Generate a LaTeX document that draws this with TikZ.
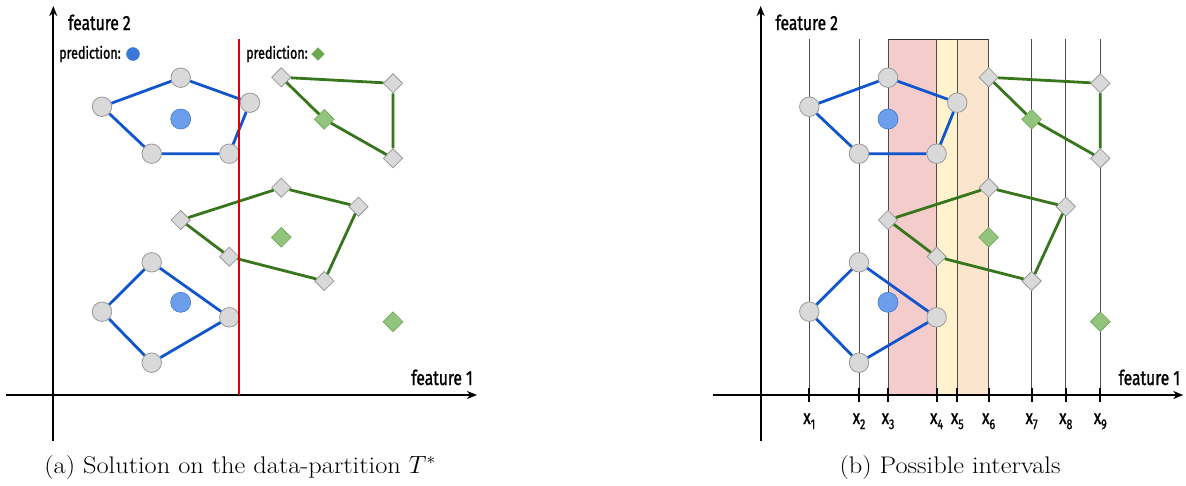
\documentclass[tikz,border=0pt]{standalone}
\usepackage{fontspec}
\newfontfamily\cond[FakeStretch=0.76,FakeBold=1.2]{Fira Sans}
\newfontfamily\capfont[FakeStretch=1.1]{Latin Modern Roman}
\usetikzlibrary{shapes.geometric,arrows.meta}
\definecolor{bline}{HTML}{1155CC}
\definecolor{gline}{HTML}{38761D}
\definecolor{ptfill}{HTML}{D9D9D9}
\definecolor{ptstroke}{HTML}{999999}
\definecolor{bcfill}{HTML}{6D9EEB}
\definecolor{bcstroke}{HTML}{3C78D8}
\definecolor{gcfill}{HTML}{93C47D}
\definecolor{gcstroke}{HTML}{6AA84F}
\definecolor{bandpink}{HTML}{F4CCCC}
\definecolor{bandyellow}{HTML}{FFF2CC}
\definecolor{bandorange}{HTML}{FCE5CD}
\definecolor{splitred}{HTML}{E00000}
\tikzset{
  pt/.style={circle, draw=ptstroke, fill=ptfill, line width=0.8pt, minimum size=19.5pt, inner sep=0pt},
  dm/.style={diamond, draw=ptstroke, fill=ptfill, line width=0.8pt, minimum width=19.5pt, minimum height=19.5pt, inner sep=0pt},
  bcen/.style={circle, draw=bcstroke, fill=bcfill, line width=0.6pt, minimum size=20pt, inner sep=0pt},
  gcen/.style={diamond, draw=gcstroke, fill=gcfill, line width=0.6pt, minimum width=20pt, minimum height=20pt, inner sep=0pt},
  bedge/.style={draw=bline, line width=2.8pt},
  gedge/.style={draw=gline, line width=2.8pt},
  axis/.style={draw=black, line width=1.8pt, -{Stealth[length=10pt,width=8pt,inset=3pt]}},
  axlabel/.style={font=\cond\fontsize{20.5}{22}\selectfont, inner sep=0pt},
  predlabel/.style={font=\cond\fontsize{16.5}{18}\selectfont, inner sep=0pt, anchor=west},
  caption/.style={font=\capfont\fontsize{24}{28}\selectfont, inner sep=0pt},
  vline/.style={draw=black!70, line width=0.7pt},
  tick/.style={draw=black, line width=2pt},
  xlab/.style={font=\cond\fontsize{20}{20}\selectfont, inner sep=0pt, anchor=base},
}
\newcommand\xsub[1]{x\raisebox{-5pt}{\fontsize{14}{14}\selectfont #1}}
\newcommand\clusters[1]{%
  % blue top
  \node[pt] (#1b1) at (102,106.7) {};
  \node[pt] (#1b2) at (180.7,77.7) {};
  \node[pt] (#1b3) at (250,102.7) {};
  \node[pt] (#1b4) at (229.3,153.7) {};
  \node[pt] (#1b5) at (151.7,153.7) {};
  \node[bcen] (#1bc) at (180.7,119) {};
  \draw[bedge] (#1b1) -- (#1b2) -- (#1b3) -- (#1b4) -- (#1b5) -- (#1b1);
  % green top
  \node[dm] (#1g1) at (281.3,77.3) {};
  \node[dm] (#1g2) at (393,83.3) {};
  \node[dm] (#1g3) at (393,158.3) {};
  \node[gcen] (#1gc) at (324.3,119.3) {};
  \draw[gedge] (#1g1) -- (#1g2) -- (#1g3) -- (#1gc) -- (#1g1);
  % green middle
  \node[dm] (#1m1) at (180.7,220) {};
  \node[dm] (#1m2) at (281.3,187.7) {};
  \node[dm] (#1m3) at (358.5,206.7) {};
  \node[dm] (#1m4) at (324.3,281) {};
  \node[dm] (#1m5) at (229.3,256.7) {};
  \node[gcen] (#1mc) at (281.3,237.3) {};
  \draw[gedge] (#1m1) -- (#1m2) -- (#1m3) -- (#1m4) -- (#1m5) -- (#1m1);
  % blue bottom
  \node[pt] (#1c1) at (151.7,262.3) {};
  \node[pt] (#1c2) at (102,311.7) {};
  \node[pt] (#1c3) at (151.7,362.7) {};
  \node[pt] (#1c4) at (229.3,317.3) {};
  \node[bcen] (#1cc) at (180.7,302.3) {};
  \draw[bedge] (#1c1) -- (#1c4) -- (#1c3) -- (#1c2) -- (#1c1);
  % single green
  \node[gcen] (#1gs) at (393,321.7) {};
}
\begin{document}
\begin{tikzpicture}[x=1pt,y=-1pt]
\useasboundingbox (0,0) rectangle (1186,485);
% ---------------- panel (a) ----------------
\coordinate (aXs) at (6,395);
\coordinate (aXe) at (477,395);
\coordinate (aYs) at (53.3,441);
\coordinate (aYe) at (53.3,6);
\draw[axis] (aXs) -- (aXe);
\draw[axis] (aYs) -- (aYe);
\node[axlabel, anchor=base west] (af2) at (68,30) {feature 2};
\node[axlabel, anchor=base east] (af1) at (473,385) {feature 1};
\clusters{a}
\coordinate (rtop) at (239,39);
\coordinate (rbot) at (239,395);
\draw[draw=splitred, line width=2.8pt] (rtop) -- (rbot);
\node[predlabel] (pl1) at (59,54) {prediction:};
\node[circle, fill=bcstroke, draw=bcstroke, minimum size=13pt, inner sep=0pt] (pc1) at (133,54) {};
\node[predlabel] (pl2) at (246,54) {prediction:};
\node[diamond, fill=gcstroke, draw=gcstroke, minimum width=13pt, minimum height=13pt, inner sep=0pt] (pd2) at (318,54) {};
\node[caption] (capa) at (240,468) {(a) Solution on the data-partition $T^*$};
% ---------------- panel (b) ----------------
\begin{scope}[xshift=707.3pt]
\fill[bandpink] (180.7,39) rectangle (229.3,395);
\fill[bandyellow] (229.3,39) rectangle (250,395);
\fill[bandorange] (250,39) rectangle (281.3,395);
\coordinate (btl) at (180.7,39);
\coordinate (btr) at (281.3,39);
\draw[draw=black!80, line width=0.8pt] (btl) -- (btr);
\foreach \xx/\ii in {102/1,151.7/2,180.7/3,229.3/4,250/5,281.3/6,324.3/7,358.5/8,393/9}{
  \coordinate (vt\ii) at (\xx,39);
  \coordinate (vb\ii) at (\xx,395);
  \draw[vline] (vt\ii) -- (vb\ii);
  \coordinate (tt\ii) at (\xx,388);
  \coordinate (tb\ii) at (\xx,402);
  \draw[tick] (tt\ii) -- (tb\ii);
  \node[xlab] (xl\ii) at (\xx,424) {\xsub{\ii}};
}
\coordinate (bXs) at (6,395);
\coordinate (bXe) at (476,395);
\coordinate (bYs) at (53.3,441);
\coordinate (bYe) at (53.3,6);
\draw[axis] (bXs) -- (bXe);
\draw[axis] (bYs) -- (bYe);
\node[axlabel, anchor=base west] (bf2) at (68,30) {feature 2};
\node[axlabel, anchor=base east] (bf1) at (473,385) {feature 1};
\clusters{b}
\node[caption] (capb) at (242.7,468) {(b) Possible intervals};
\end{scope}
\end{tikzpicture}
\end{document}
